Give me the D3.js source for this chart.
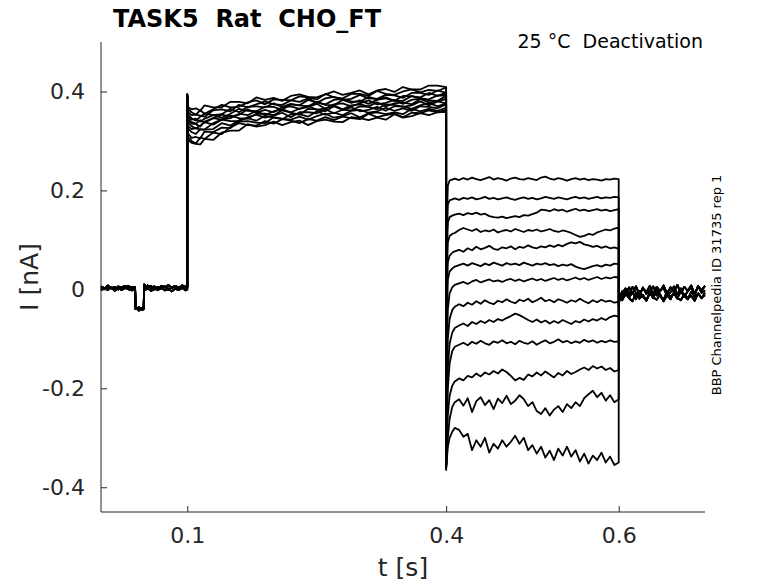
<!DOCTYPE html>
<html>
<head>
<meta charset="utf-8">
<script src="https://cdn.jsdelivr.net/npm/d3@7/dist/d3.min.js"></script>
<style>
  html, body { margin: 0; padding: 0; background: #fff; }
  svg { display: block; font-family: "DejaVu Sans", sans-serif; }
</style>
</head>
<body>
<div id="chart"></div>
<script>
// Enregistrement TASK5 - protocole de désactivation, 13 balayages

const titleText = "TASK5  Rat  CHO_FT";
const protocolText = "25 \u00B0C  Deactivation";
const sourceText = "BBP Channelpedia ID 31735 rep 1";

const xTicks = [0.1, 0.4, 0.6];
const yTicks = [-0.4, -0.2, 0, 0.2, 0.4];

// avant le saut (0 -> 0.1 s), avec le petit creux vers 0.045 s
const preTimes = [0, .004, .008, .012, .016, .020, .024, .028, .032, .036, .0395, .040, .044, .048, .0495,
  .050, .054, .058, .062, .066, .070, .074, .078, .082, .086, .090, .094, .098, .100];
const preTraces = [
  [.004, .001, .006, .002, .005, .000, .004, .007, .002, .005, .003, -.036, -.040, -.038, -.033, .004, .008, .003, .006, .001, .007, .004, .009, .003, .006, .002, .008, .005, .006],
  [-.002, .003, -.001, .004, -.003, .002, -.001, .003, .000, -.002, .001, -.040, -.036, -.042, -.038, -.002, .002, -.003, .001, -.001, .003, -.002, .002, -.004, .001, -.001, .003, -.002, .000],
  [.006, .002, .008, .003, .000, .006, .002, .004, .007, .001, .005, -.034, -.043, -.037, -.040, .010, .004, .007, .000, .005, .002, .006, -.001, .004, .007, .003, .005, .001, .004]
];

// activation (0.1 -> 0.4 s)
const actTimes = [.100, .101, .105, .110, .115, .12, .13, .14, .15, .16, .17, .18, .19, .20, .21, .22, .23, .24,
  .25, .26, .27, .28, .29, .30, .31, .32, .33, .34, .35, .36, .37, .38, .39, .40];
const actTraces = [
  [.394, .368, .364, .366, .361, .372, .368, .368, .379, .379, .376, .388, .383, .387, .381, .391, .394, .389, .388, .394, .400, .393, .397, .402, .394, .402, .405, .399, .409, .404, .404, .412, .412, .409],
  [.392, .364, .358, .353, .362, .355, .364, .373, .368, .369, .378, .382, .374, .384, .383, .382, .390, .388, .384, .395, .388, .386, .395, .395, .391, .401, .395, .393, .400, .404, .398, .403, .401, .408],
  [.395, .358, .352, .353, .351, .349, .362, .364, .360, .373, .368, .374, .380, .374, .373, .382, .379, .386, .377, .386, .389, .383, .385, .393, .386, .385, .393, .392, .387, .397, .397, .393, .402, .397],
  [.393, .352, .346, .341, .349, .355, .352, .354, .365, .358, .369, .370, .368, .376, .369, .375, .372, .383, .378, .374, .383, .385, .380, .379, .389, .384, .388, .381, .391, .390, .388, .397, .391, .397],
  [.390, .348, .343, .345, .339, .345, .352, .347, .355, .365, .361, .360, .369, .369, .363, .374, .372, .370, .379, .373, .372, .383, .377, .382, .375, .383, .386, .381, .381, .391, .386, .384, .392, .391],
  [.392, .344, .338, .335, .342, .337, .346, .353, .349, .353, .364, .357, .363, .358, .368, .370, .365, .369, .375, .365, .374, .376, .370, .376, .382, .374, .377, .383, .375, .383, .386, .382, .381, .391],
  [.391, .340, .335, .334, .329, .339, .346, .343, .346, .355, .352, .361, .352, .360, .364, .358, .365, .371, .363, .366, .372, .364, .372, .374, .370, .378, .370, .376, .378, .374, .385, .378, .380, .385],
  [.393, .336, .330, .325, .331, .338, .333, .343, .351, .346, .345, .355, .355, .352, .362, .357, .353, .365, .364, .360, .370, .363, .362, .370, .369, .364, .374, .373, .369, .372, .380, .372, .380, .376],
  [.390, .330, .324, .326, .323, .323, .336, .343, .340, .340, .348, .353, .347, .351, .357, .348, .358, .358, .356, .364, .356, .363, .368, .360, .363, .369, .361, .370, .370, .365, .372, .377, .370, .376],
  [.392, .325, .318, .314, .324, .323, .324, .336, .331, .342, .346, .341, .351, .347, .344, .354, .354, .349, .360, .353, .357, .352, .361, .363, .357, .360, .367, .361, .366, .361, .370, .369, .366, .374],
  [.389, .315, .306, .308, .305, .319, .318, .327, .326, .339, .340, .337, .336, .348, .345, .343, .349, .343, .350, .355, .347, .350, .356, .348, .356, .358, .354, .358, .354, .365, .360, .365, .361, .367],
  [.391, .308, .300, .295, .307, .304, .317, .314, .328, .336, .332, .331, .340, .335, .344, .341, .336, .344, .341, .348, .342, .349, .346, .344, .355, .348, .352, .355, .348, .357, .356, .362, .358, .363],
  [.388, .302, .296, .294, .293, .304, .302, .317, .321, .321, .334, .329, .332, .339, .332, .338, .341, .332, .340, .343, .339, .338, .348, .346, .342, .347, .343, .354, .347, .350, .356, .352, .358, .359]
];

// désactivation (0.4 -> 0.6 s), un niveau par balayage
const deactTimes = [.400, .401, .402, .404, .407, .410, .415, .420, .425, .430, .435, .440, .445, .450, .455,
  .460, .465, .470, .475, .480, .485, .490, .495, .500, .505, .510, .515, .520, .525, .530, .535, .540, .545,
  .550, .555, .560, .565, .570, .575, .580, .585, .590, .595, .600];
const deactTraces = [
  [-.355, .150, .210, .220, .222, .224, .221, .225, .222, .226, .223, .221, .224, .227, .222, .225, .223, .220, .224, .226, .223, .222, .225, .223, .221, .226, .228, .224, .222, .225, .223, .220, .223, .225, .222, .224, .221, .223, .222, .220, .223, .222, .224, .223],
  [-.355, .110, .172, .180, .182, .184, .181, .185, .183, .186, .182, .184, .187, .183, .185, .182, .184, .186, .183, .181, .184, .186, .183, .185, .182, .184, .187, .185, .183, .186, .184, .182, .185, .187, .184, .186, .183, .185, .187, .184, .186, .185, .187, .186],
  [-.355, .080, .135, .146, .149, .151, .153, .150, .154, .152, .155, .151, .153, .148, .146, .145, .147, .144, .146, .148, .146, .150, .149, .152, .155, .161, .160, .158, .162, .159, .161, .157, .160, .163, .159, .161, .158, .160, .162, .159, .161, .158, .160, .162],
  [-.355, .040, .095, .108, .112, .114, .120, .124, .121, .118, .122, .116, .119, .117, .121, .115, .118, .120, .117, .122, .119, .116, .120, .118, .121, .117, .119, .122, .118, .116, .119, .117, .114, .110, .106, .108, .112, .110, .115, .118, .121, .119, .123, .125],
  [-.355, .000, .055, .068, .074, .077, .080, .076, .083, .079, .086, .081, .084, .088, .082, .080, .085, .083, .087, .081, .086, .084, .089, .085, .083, .087, .085, .089, .086, .090, .087, .092, .095, .093, .096, .091, .089, .086, .088, .084, .087, .083, .085, .082],
  [-.355, -.050, .020, .036, .042, .046, .049, .052, .048, .053, .050, .047, .052, .049, .054, .051, .048, .053, .050, .052, .049, .054, .051, .048, .052, .050, .053, .049, .051, .047, .050, .048, .051, .046, .043, .041, .044, .047, .049, .046, .050, .048, .052, .051],
  [-.355, -.110, -.040, -.008, .004, .009, .012, .015, .011, .016, .019, .014, .017, .020, .016, .018, .015, .019, .021, .017, .020, .016, .019, .022, .018, .021, .017, .020, .023, .019, .022, .018, .021, .024, .020, .023, .019, .022, .025, .021, .024, .022, .025, .024],
  [-.358, -.170, -.100, -.060, -.042, -.035, -.030, -.034, -.027, -.031, -.024, -.029, -.022, -.027, -.030, -.023, -.026, -.020, -.025, -.028, -.021, -.024, -.019, -.026, -.022, -.017, -.024, -.021, -.026, -.020, -.023, -.027, -.022, -.025, -.019, -.024, -.028, -.022, -.026, -.021, -.025, -.023, -.027, -.025],
  [-.358, -.230, -.160, -.110, -.088, -.078, -.073, -.069, -.074, -.066, -.070, -.064, -.068, -.062, -.066, -.060, -.063, -.058, -.054, -.049, -.052, -.057, -.062, -.066, -.061, -.067, -.063, -.069, -.064, -.068, -.062, -.066, -.070, -.064, -.067, -.061, -.065, -.060, -.063, -.058, -.062, -.056, -.053, -.055],
  [-.360, -.260, -.200, -.150, -.125, -.116, -.112, -.108, -.113, -.106, -.110, -.104, -.109, -.112, -.105, -.108, -.103, -.109, -.106, -.111, -.104, -.108, -.110, -.105, -.112, -.107, -.103, -.109, -.106, -.101, -.107, -.104, -.109, -.105, -.108, -.102, -.106, -.103, -.108, -.104, -.107, -.103, -.106, -.105],
  [-.360, -.300, -.255, -.215, -.195, -.186, -.180, -.184, -.175, -.178, -.170, -.176, -.168, -.172, -.165, -.170, -.162, -.167, -.175, -.184, -.179, -.183, -.172, -.176, -.168, -.174, -.166, -.172, -.178, -.169, -.174, -.165, -.171, -.167, -.162, -.158, -.163, -.155, -.160, -.156, -.163, -.159, -.166, -.163],
  [-.362, -.330, -.300, -.262, -.238, -.228, -.222, -.235, -.220, -.248, -.226, -.218, -.234, -.224, -.242, -.221, -.230, -.215, -.232, -.225, -.214, -.222, -.236, -.228, -.246, -.252, -.240, -.255, -.243, -.236, -.248, -.232, -.240, -.228, -.236, -.220, -.212, -.205, -.218, -.209, -.225, -.214, -.228, -.222],
  [-.365, -.340, -.318, -.300, -.288, -.280, -.284, -.298, -.292, -.325, -.305, -.318, -.300, -.330, -.312, -.322, -.305, -.318, -.308, -.296, -.312, -.300, -.325, -.315, -.332, -.318, -.340, -.326, -.345, -.322, -.336, -.318, -.338, -.325, -.348, -.332, -.352, -.336, -.345, -.330, -.350, -.338, -.355, -.350]
];

// retour au potentiel de maintien (0.6 -> 0.7 s)
const postTimes = [.600, .601, .604, .608, .612, .616, .620, .624, .628, .632, .636, .640, .644, .648, .652,
  .656, .660, .664, .668, .672, .676, .680, .684, .688, .692, .696, .700];
const postTraces = [
  [-.030, -.018, -.004, -.012, .004, -.008, .006, -.010, .003, -.006, .007, -.011, .005, -.004, .008, -.009, .004, -.005, .009, -.008, .005, -.003, .008, -.010, .006, -.002, .007],
  [-.028, -.022, -.014, -.002, -.017, -.005, -.020, -.003, -.015, -.022, -.006, -.018, -.001, -.014, -.021, -.004, -.016, -.008, -.019, -.002, -.013, -.020, -.005, -.015, -.009, -.018, -.007],
  [-.032, -.016, -.008, .002, -.010, .005, -.007, -.014, .004, -.009, -.003, .006, -.012, -.002, .003, -.013, -.006, .006, -.010, .002, -.015, -.004, .004, -.011, .007, -.007, -.002],
  [-.026, -.014, -.022, -.009, -.018, -.024, -.007, -.019, -.011, -.023, -.008, -.016, -.021, -.010, -.024, -.012, -.020, -.006, -.017, -.022, -.009, -.018, -.013, -.023, -.008, -.017, -.012]
];

function main() {
  const width = 778;
  const height = 583;
  const margin = { top: 42, right: 73, bottom: 71, left: 101 };
  const innerWidth = width - margin.left - margin.right;
  const innerHeight = height - margin.top - margin.bottom;
  const axisColor = "#262626";

  const svg = d3.select("#chart").append("svg")
    .attr("width", width)
    .attr("height", height)
    .attr("viewBox", `0 0 ${width} ${height}`);

  svg.append("rect").attr("width", width).attr("height", height).attr("fill", "#fff");

  const g = svg.append("g").attr("transform", `translate(${margin.left},${margin.top})`);

  // Échelles
  const x = d3.scaleLinear().domain([0, 0.7]).range([0, innerWidth]);
  const y = d3.scaleLinear().domain([-0.45, 0.5]).range([innerHeight, 0]);

  // un balayage = maintien + activation + désactivation + retour
  const sweeps = actTraces.map((act, i) => {
    const pre = preTraces[i % preTraces.length];
    const post = postTraces[i % postTraces.length];
    return [].concat(
      preTimes.map((t, j) => [t, pre[j]]),
      actTimes.map((t, j) => [t, act[j]]),
      deactTimes.map((t, j) => [t, deactTraces[i][j]]),
      postTimes.map((t, j) => [t, post[j]])
    );
  });

  const line = d3.line().x(d => x(d[0])).y(d => y(d[1]));

  g.append("g")
    .selectAll("path")
    .data(sweeps)
    .join("path")
    .attr("d", line)
    .attr("fill", "none")
    .attr("stroke", "#000")
    .attr("stroke-width", 1.8)
    .attr("stroke-linejoin", "round");

  // Axes (graduations vers l'intérieur, style MATLAB)
  const tickFmt = d => d === 0 ? "0" : d.toFixed(1);
  const yAxis = g.append("g")
    .call(d3.axisLeft(y).tickValues(yTicks).tickSize(-6).tickPadding(16).tickFormat(tickFmt));
  const xAxis = g.append("g")
    .attr("transform", `translate(0,${innerHeight})`)
    .call(d3.axisBottom(x).tickValues(xTicks).tickSize(-6).tickPadding(15).tickFormat(tickFmt));

  [xAxis, yAxis].forEach(ax => {
    ax.select(".domain").remove();
    ax.selectAll(".tick line").attr("stroke", axisColor);
    ax.selectAll(".tick text")
      .attr("fill", axisColor)
      .style("font-family", "DejaVu Sans")
      .style("font-size", "22px");
  });
  g.append("line").attr("x1", 0).attr("x2", 0).attr("y1", 0).attr("y2", innerHeight)
    .attr("stroke", axisColor);
  g.append("line").attr("x1", 0).attr("x2", innerWidth).attr("y1", innerHeight).attr("y2", innerHeight)
    .attr("stroke", axisColor);

  // Libellés
  svg.append("text")
    .attr("x", margin.left + innerWidth / 2)
    .attr("y", 576)
    .attr("text-anchor", "middle")
    .attr("fill", axisColor)
    .style("font-size", "25px")
    .text("t [s]");

  svg.append("text")
    .attr("transform", `translate(38,${margin.top + innerHeight / 2}) rotate(-90)`)
    .attr("text-anchor", "middle")
    .attr("fill", axisColor)
    .style("font-size", "25px")
    .text("I [nA]");

  svg.append("text")
    .attr("x", 113)
    .attr("y", 27)
    .attr("fill", "#000")
    .style("font-size", "24px")
    .style("font-weight", "bold")
    .style("white-space", "pre")
    .text(titleText);

  svg.append("text")
    .attr("x", 703)
    .attr("y", 48)
    .attr("text-anchor", "end")
    .attr("fill", "#000")
    .style("font-size", "19px")
    .style("white-space", "pre")
    .text(protocolText);

  svg.append("text")
    .attr("transform", `translate(721,285) rotate(-90)`)
    .attr("text-anchor", "middle")
    .attr("fill", "#000")
    .style("font-size", "13px")
    .text(sourceText);
}

main();
</script>
</body>
</html>
